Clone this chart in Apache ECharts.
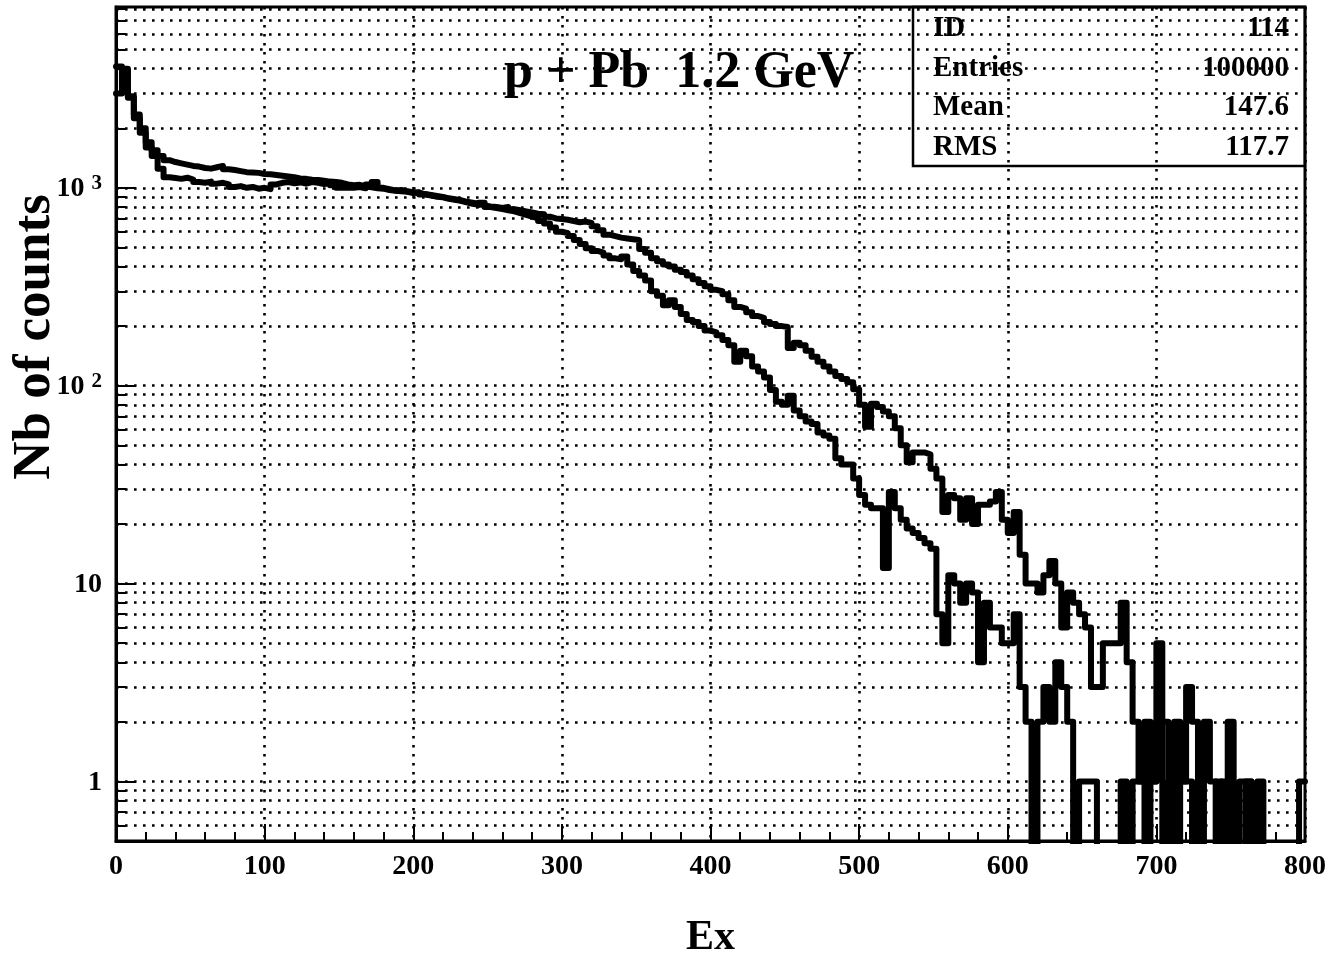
<!DOCTYPE html>
<html>
<head>
<meta charset="utf-8">
<script src="https://cdn.jsdelivr.net/npm/echarts@6/dist/echarts.min.js"></script>
<style>
  html, body { margin: 0; padding: 0; background: #ffffff; }
  #chart { width: 1340px; height: 964px; }
</style>
</head>
<body>
<div id="chart"></div>
<script>
// Excitation-energy spectra, p + Pb at 1.2 GeV: two histograms, 4-unit bins from 0 to 800.
const binWidth = 4;
const xMin = 0;
const xMax = 800;
const xInterval = 100;
const yMin = 0.5;
const yMax = 8200;

// Counts per bin (200 bins) for the harder spectrum.
const countsHard = [
  3000, 4000, 2850, 2250, 1900, 1600, 1450, 1250,
  1130, 1120, 1110, 1125, 1100,
  1070, 1060, 1075, 1050, 1060, 1040,
  1010, 1020, 1000, 1010, 990, 1000, 985,
  1040, 1060, 1070, 1055, 1065, 1050, 1070, 1060, 1045, 1055, 1030, 1000,
  1005, 1000, 1010, 995, 1040, 1070, 1000,
  985, 970, 975, 960, 950, 945,
  930, 920, 910, 900, 885, 875, 865, 850, 840, 830, 815, 805,
  800, 790, 800, 780, 770, 760, 750, 740, 735, 715,
  700, 695, 690,
  680, 670, 675, 665,
  640, 610, 580, 570,
  560, 555, 550, 545,
  490, 470, 440, 425,
  410, 400, 385, 375,
  360, 345, 330, 318,
  305, 300, 290, 270,
  250, 245, 235, 225,
  220, 210, 205, 200,
  198, 155, 165, 160,
  150, 140, 132, 125,
  118, 112, 108, 104,
  96, 80, 62, 81,
  78, 74, 70, 61,
  50, 41, 46, 46,
  45, 38, 34, 23,
  28, 27, 21, 27,
  20, 25, 25, 26,
  29, 21, 18, 23,
  14, 10, 10, 9,
  11, 13, 10, 6,
  9, 8, 7, 6,
  3, 3, 5, 5,
  5, 8, 4, 2,
  1, 2, 1, 5,
  2, 1, 2, 1,
  3, 2, 1, 2,
  1, 0, 1, 2,
  0, 1, 1, 0,
  1, 0, 0, 0,
  0, 0, 0, 1
];

// Counts per bin (200 bins) for the softer spectrum.
const countsSoft = [
  4100, 3900, 2900, 2350, 2000, 1700, 1550, 1450,
  1380, 1350, 1330, 1310, 1290,
  1280, 1260, 1250, 1270, 1290, 1240,
  1230, 1215, 1200, 1195, 1190, 1175, 1170,
  1160, 1150, 1140, 1130, 1115, 1110, 1100, 1095, 1085, 1075, 1070, 1060,
  1040, 1030, 1035, 1020, 1005, 995, 990,
  975, 965, 960, 955, 940, 950,
  925, 915, 900, 895, 880, 870, 860, 845, 830, 820, 840, 800,
  790, 780, 770, 760, 745, 730, 715, 700, 680, 660,
  630, 600, 590,
  570, 545, 520, 495,
  480, 470, 455, 440,
  436, 450, 410, 380,
  360, 340, 300, 285,
  255, 270, 250, 230,
  215, 210, 200, 190,
  186, 180, 170, 160,
  132, 150, 141, 125,
  118, 110, 95, 83,
  80, 89, 75, 70,
  66, 64, 58, 56,
  54, 43, 40, 40,
  34, 28, 25, 24,
  24, 12, 29, 24,
  21, 19, 18, 17,
  16, 15, 7, 5,
  11, 10, 8, 10,
  9, 4, 8, 6,
  6, 5, 5, 7,
  3, 2, 0, 2,
  3, 2, 4, 3,
  2, 0, 1, 1,
  1, 0, 0, 0,
  0, 1, 0, 1,
  1, 0, 1, 2,
  0, 1, 0, 1,
  1, 0, 1, 0,
  0, 1, 0, 1,
  0, 0, 1, 0,
  0, 0, 0, 0,
  0, 0, 0, 0
];

// Axis tick labels (log axis: base and exponent written as superscript).
const yTickValues = [1, 10, 100, 1000];
const yTickBase = ['1', '10', '10', '10'];
const yTickExp = ['', '', '2', '3'];

// Statistics box.
const statsLabels = ['ID', 'Entries', 'Mean', 'RMS'];
const statsValues = ['114', '100000', '147.6', '117.7'];

const titleText = 'p + Pb  1.2 GeV';
const xTitle = 'Ex';
const yTitle = 'Nb of counts';

const FONT = '"Liberation Serif", "Times New Roman", serif';
// Empty bins have no place on a log axis: send them below the frame, where they are clipped.
const EMPTY_LEVEL = 0.2;

function stepPoints(counts) {
  const pts = counts.map((c, i) => [xMin + i * binWidth, c > 0 ? c : EMPTY_LEVEL]);
  pts.push([xMin + counts.length * binWidth, pts[pts.length - 1][1]]);
  return pts;
}

// Dotted grid lines and short ticks at 2..9 x 10^k on the log axis.
const minorGrid = [];
const minorTicks = [];
for (let k = -1; k <= 3; k++) {
  for (let m = 2; m <= 9; m++) {
    const v = m * Math.pow(10, k);
    if (v > yMin && v < yMax) {
      minorGrid.push({ yAxis: v });
      minorTicks.push([{ coord: [xMin, v] }, { coord: [xMin + 7, v] }]);
    }
  }
}

const dotted = { color: '#000', width: 2.6, type: [2.6, 6.4], cap: 'butt' };

const chart = echarts.init(document.getElementById('chart'), null, { renderer: 'canvas' });

const histLine = { color: '#000', width: 6, cap: 'round', join: 'round' };

chart.setOption({
  animation: false,
  backgroundColor: '#ffffff',
  title: {
    text: titleText,
    left: 499,
    top: 43,
    textStyle: { fontFamily: FONT, fontWeight: 'bold', fontSize: 52, color: '#000' }
  },
  grid: {
    left: 116, right: 35, top: 7, bottom: 121,
    containLabel: false,
    show: true, borderColor: '#000', borderWidth: 3, backgroundColor: 'transparent'
  },
  xAxis: {
    type: 'value',
    min: xMin, max: xMax, interval: xInterval,
    name: xTitle,
    nameLocation: 'middle',
    nameGap: 76,
    nameTextStyle: { fontFamily: FONT, fontWeight: 'bold', fontSize: 42, color: '#000' },
    axisLine: { show: true, lineStyle: { color: '#000', width: 3 } },
    axisTick: { show: true, inside: true, length: 17, lineStyle: { color: '#000', width: 2 } },
    minorTick: { show: true, splitNumber: 5, length: 9, lineStyle: { color: '#000', width: 2 } },
    splitLine: { show: true, lineStyle: dotted },
    axisLabel: {
      margin: 12,
      fontFamily: FONT, fontWeight: 'bold', fontSize: 28, color: '#000'
    }
  },
  yAxis: {
    type: 'log',
    logBase: 10,
    min: yMin, max: yMax,
    axisLine: { show: true, lineStyle: { color: '#000', width: 3 } },
    axisTick: { show: true, inside: true, length: 20, lineStyle: { color: '#000', width: 2 } },
    splitLine: { show: true, lineStyle: dotted },
    axisLabel: {
      margin: 14,
      showMinLabel: false,
      showMaxLabel: false,
      formatter: function (v) {
        const i = yTickValues.findIndex(t => Math.abs(t - v) / t < 1e-6);
        if (i < 0) return '';
        return yTickExp[i] ? '{b|' + yTickBase[i] + '}{s|' + yTickExp[i] + '}' : '{b|' + yTickBase[i] + '}';
      },
      rich: {
        b: { fontFamily: FONT, fontWeight: 'bold', fontSize: 28, color: '#000', lineHeight: 30, verticalAlign: 'bottom' },
        s: { fontFamily: FONT, fontWeight: 'bold', fontSize: 21, color: '#000', lineHeight: 30, verticalAlign: 'top', padding: [0, 0, 10, 7] }
      }
    }
  },
  graphic: [
    {
      type: 'text', x: 35, y: 337, rotation: Math.PI / 2,
      style: { text: yTitle, font: 'bold 53px ' + FONT, fill: '#000', align: 'center', verticalAlign: 'middle' }
    },
    {
      type: 'rect', shape: { x: 913, y: 7, width: 392, height: 159 },
      style: { fill: 'none', stroke: '#000', lineWidth: 2.5 }
    }
  ].concat(statsLabels.map((t, i) => ({
    type: 'text', x: 933, y: 29 + i * 39.5,
    style: { text: t, font: 'bold 29px ' + FONT, fill: '#000', align: 'left', verticalAlign: 'middle' }
  }))).concat(statsValues.map((t, i) => ({
    type: 'text', x: 1289, y: 29 + i * 39.5,
    style: { text: t, font: 'bold 29px ' + FONT, fill: '#000', align: 'right', verticalAlign: 'middle' }
  }))),
  series: [
    {
      name: 'hard',
      type: 'line',
      step: 'end',
      data: stepPoints(countsHard),
      showSymbol: false,
      clip: true,
      lineStyle: histLine,
      markLine: {
        silent: true, symbol: 'none', animation: false,
        label: { show: false },
        lineStyle: dotted,
        data: minorGrid
      }
    },
    {
      name: 'soft',
      type: 'line',
      step: 'end',
      data: stepPoints(countsSoft),
      showSymbol: false,
      clip: true,
      lineStyle: histLine,
      markLine: {
        silent: true, symbol: 'none', animation: false,
        label: { show: false },
        lineStyle: { color: '#000', width: 2, type: 'solid' },
        data: minorTicks
      }
    }
  ]
});
</script>
</body>
</html>
